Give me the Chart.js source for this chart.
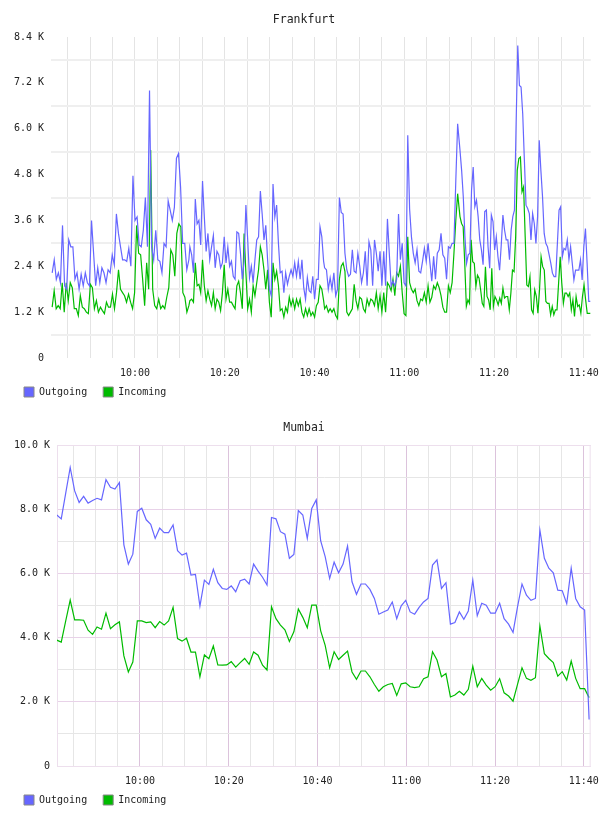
<!DOCTYPE html>
<html lang="en">
<head>
<meta charset="UTF-8">
<title>Frankfurt / Mumbai traffic</title>
<script src="https://cdn.jsdelivr.net/npm/chart.js"></script>
<style>
  body { margin: 0; background: #fff; }
  .box { position: relative; width: 608px; height: 408px; }
</style>
</head>
<body>
<div class="box"><canvas id="fra"></canvas></div>
<div class="box"><canvas id="mum"></canvas></div>
<script>
// time axis in minutes after midnight (9:41 .. 11:41)
const timeRange = [581.3, 701.55];

// Frankfurt, values in K, read in four stretches; each stretch spans [from, to] minutes
const fraSpans = [[581.56, 612.02], [612.24, 642.04], [642.26, 671.9], [672.42, 701.48]];
const fraOut1 = [2.23, 2.57, 2.06, 2.23, 1.97, 3.47, 1.89, 1.8, 3.09, 2.91, 2.91, 2.06, 2.23, 1.8, 2.19, 1.89, 2.23, 1.97, 1.89, 3.6, 2.74, 1.89, 2.36, 1.97, 2.36, 2.23, 1.97, 2.31, 2.23, 2.7, 2.44, 3.77, 3.26, 2.91, 2.57, 2.57, 2.53, 2.87, 2.4, 4.77, 3.6, 3.69, 2.96, 2.91, 3.34, 4.2, 2.91, 7.0, 2.91, 2.57, 3.34, 2.57, 2.53, 2.23, 3.0, 2.91, 4.11, 3.86, 3.6, 3.94, 5.23, 5.35, 4.46, 3.0, 3.0, 2.31, 2.57];
const fraOut2 = [2.91, 2.7, 2.23, 4.16, 3.51, 3.6, 2.96, 4.63, 3.69, 2.79, 3.26, 2.57, 2.91, 3.21, 2.36, 2.79, 2.7, 2.36, 2.49, 3.17, 2.49, 2.91, 2.4, 2.53, 2.14, 2.06, 3.3, 3.26, 2.74, 2.06, 2.53, 4.0, 3.09, 2.1, 2.4, 1.97, 2.57, 3.09, 3.17, 4.37, 3.77, 3.09, 3.47, 2.57, 1.8, 1.63, 4.55, 3.69, 4.0, 3.0, 2.23, 2.27, 1.71, 2.23, 1.93, 2.14, 2.31, 2.14, 2.49, 2.14, 2.53, 2.06, 2.57, 1.84, 1.54, 2.1, 1.76, 1.71, 2.14, 1.54, 2.06, 2.06, 3.43, 3.17, 2.53];
const fraOut3 = [2.36, 2.31, 1.8, 2.1, 1.8, 2.23, 1.63, 1.8, 4.2, 3.81, 3.77, 2.74, 2.31, 2.14, 2.19, 2.83, 2.27, 2.23, 2.74, 2.4, 1.97, 2.23, 2.79, 1.89, 3.04, 2.83, 1.89, 3.09, 2.74, 2.27, 2.79, 1.89, 2.79, 1.89, 3.64, 2.74, 1.89, 2.01, 1.89, 2.06, 3.77, 2.57, 3.0, 1.97, 1.89, 5.83, 3.9, 3.17, 2.74, 2.49, 2.83, 2.27, 2.23, 2.53, 2.87, 2.53, 3.0, 2.49, 2.01, 2.66, 2.06, 2.74, 2.83, 3.26, 2.7, 2.61, 2.06, 2.91, 2.87, 3.0, 3.0, 4.63, 6.13];
const fraOut4 = [5.44, 4.91, 4.22, 3.17, 2.48, 2.7, 2.74, 4.39, 5.0, 3.96, 4.13, 3.7, 3.09, 2.83, 2.44, 3.83, 3.87, 2.91, 2.35, 3.74, 3.57, 2.83, 3.17, 2.65, 2.3, 2.96, 3.74, 3.35, 3.09, 3.09, 2.57, 3.35, 3.7, 3.87, 6.13, 8.18, 7.13, 7.09, 6.39, 5.18, 4.0, 3.91, 3.78, 3.09, 3.78, 3.52, 3.0, 3.7, 5.7, 4.91, 4.22, 3.26, 3.0, 2.91, 2.7, 2.48, 2.22, 2.13, 2.13, 3.0, 3.87, 3.96, 2.65, 2.87, 2.83, 3.09, 2.57, 2.91, 2.48, 2.04, 2.3, 2.3, 2.3, 2.57, 2.04, 2.91, 3.39, 2.48, 1.48, 1.48];
const fraIn1 = [1.33, 1.76, 1.29, 1.37, 1.29, 1.97, 1.2, 1.97, 1.5, 1.97, 1.84, 1.29, 1.29, 1.11, 1.63, 1.33, 1.29, 1.2, 1.16, 1.93, 1.84, 1.29, 1.5, 1.2, 1.33, 1.24, 1.16, 1.46, 1.33, 1.33, 1.67, 1.29, 1.71, 2.31, 1.8, 1.71, 1.63, 1.46, 1.67, 1.46, 1.29, 1.71, 3.47, 2.74, 2.7, 2.06, 1.37, 2.49, 1.8, 5.44, 1.8, 1.37, 1.29, 1.54, 1.29, 1.37, 1.29, 1.59, 1.84, 2.83, 2.7, 2.14, 3.26, 3.51, 3.43, 1.71, 1.59, 1.2, 1.37];
const fraIn2 = [1.5, 1.54, 1.46, 2.49, 1.89, 1.93, 1.71, 2.57, 1.89, 1.5, 1.76, 1.54, 1.37, 1.71, 1.29, 1.54, 1.46, 1.24, 1.71, 2.44, 1.54, 1.8, 1.46, 1.46, 1.37, 1.29, 1.89, 2.01, 1.71, 1.29, 3.26, 2.23, 1.29, 1.54, 1.2, 1.89, 1.63, 1.97, 2.31, 2.91, 2.7, 2.31, 1.8, 2.31, 1.46, 1.07, 2.49, 2.06, 2.27, 1.89, 1.24, 1.29, 1.07, 1.33, 1.2, 1.59, 1.37, 1.54, 1.29, 1.54, 1.37, 1.54, 1.2, 1.07, 1.29, 1.11, 1.29, 1.11, 1.2, 1.07, 1.37, 1.46, 1.89, 1.8, 1.5];
const fraIn3 = [1.29, 1.37, 1.2, 1.29, 1.2, 1.29, 1.11, 1.03, 2.06, 2.4, 2.49, 2.27, 1.2, 1.11, 1.2, 1.29, 1.93, 1.5, 1.29, 1.59, 1.54, 1.29, 1.2, 1.54, 1.37, 1.54, 1.5, 1.37, 1.71, 1.29, 1.63, 1.2, 1.71, 1.2, 1.97, 1.89, 1.76, 2.06, 1.63, 2.23, 2.14, 2.4, 1.71, 1.16, 1.11, 3.17, 1.97, 1.8, 1.71, 1.8, 1.5, 1.37, 1.54, 1.5, 1.71, 1.46, 1.89, 1.46, 1.59, 1.89, 1.8, 1.97, 1.84, 1.63, 1.33, 1.2, 1.2, 1.89, 1.71, 1.97, 2.74, 3.6, 4.3];
const fraIn4 = [3.7, 3.52, 3.44, 2.48, 1.35, 1.52, 1.43, 3.09, 2.52, 2.48, 1.87, 2.17, 2.09, 1.78, 1.43, 1.35, 2.39, 1.61, 1.52, 1.26, 2.35, 1.35, 1.61, 1.52, 1.39, 1.57, 1.43, 1.83, 1.57, 1.61, 1.61, 1.26, 1.7, 2.3, 2.26, 3.17, 4.91, 5.22, 5.26, 4.35, 4.48, 3.17, 1.91, 1.87, 2.13, 1.26, 1.17, 1.78, 1.61, 1.17, 1.78, 2.65, 2.39, 2.3, 1.48, 1.43, 1.43, 1.13, 1.35, 1.13, 1.26, 1.26, 1.96, 2.65, 1.96, 1.43, 1.7, 1.7, 1.61, 1.7, 1.26, 1.52, 1.09, 1.61, 1.35, 1.39, 1.17, 1.61, 1.91, 1.52, 1.17, 1.17, 1.17];

// Mumbai, one reading a minute, values in K
const mumSpan = [581.25, 701.2];
const mumOut = [7.82, 7.7, 8.5, 9.3, 8.57, 8.21, 8.4, 8.19, 8.27, 8.34, 8.29, 8.92, 8.68, 8.63, 8.83, 6.89, 6.29, 6.6, 7.93, 8.03, 7.67, 7.53, 7.09, 7.41, 7.27, 7.27, 7.51, 6.71, 6.57, 6.63, 5.95, 5.97, 4.98, 5.79, 5.66, 6.13, 5.71, 5.53, 5.5, 5.61, 5.43, 5.77, 5.82, 5.67, 6.29, 6.07, 5.88, 5.64, 7.74, 7.7, 7.3, 7.22, 6.47, 6.59, 7.96, 7.82, 7.09, 8.02, 8.29, 7.01, 6.52, 5.84, 6.35, 6.02, 6.29, 6.85, 5.74, 5.35, 5.67, 5.67, 5.5, 5.22, 4.73, 4.8, 4.86, 5.11, 4.59, 4.99, 5.16, 4.8, 4.73, 4.94, 5.11, 5.22, 6.26, 6.42, 5.53, 5.71, 4.42, 4.47, 4.8, 4.57, 4.83, 5.79, 4.68, 5.07, 5.01, 4.76, 4.76, 5.07, 4.59, 4.42, 4.16, 4.96, 5.67, 5.32, 5.16, 5.22, 7.35, 6.47, 6.16, 6.02, 5.48, 5.46, 5.06, 6.16, 5.22, 4.96, 4.86, 1.45];
const mumIn = [3.92, 3.86, 4.52, 5.17, 4.55, 4.55, 4.54, 4.23, 4.1, 4.33, 4.26, 4.76, 4.28, 4.4, 4.49, 3.43, 2.93, 3.24, 4.52, 4.52, 4.47, 4.49, 4.31, 4.5, 4.39, 4.52, 4.94, 3.97, 3.89, 3.98, 3.55, 3.55, 2.78, 3.46, 3.34, 3.74, 3.15, 3.14, 3.15, 3.25, 3.08, 3.22, 3.35, 3.17, 3.55, 3.45, 3.14, 2.99, 4.96, 4.59, 4.39, 4.24, 3.88, 4.18, 4.89, 4.63, 4.31, 5.01, 5.01, 4.21, 3.76, 3.06, 3.56, 3.32, 3.45, 3.58, 2.93, 2.7, 2.96, 2.96, 2.78, 2.54, 2.33, 2.47, 2.54, 2.57, 2.2, 2.56, 2.59, 2.47, 2.44, 2.47, 2.72, 2.78, 3.56, 3.3, 2.78, 2.88, 2.15, 2.21, 2.33, 2.21, 2.39, 3.11, 2.47, 2.73, 2.52, 2.36, 2.47, 2.72, 2.28, 2.18, 2.02, 2.54, 3.06, 2.73, 2.67, 2.75, 4.36, 3.5, 3.35, 3.22, 2.8, 2.94, 2.68, 3.27, 2.73, 2.41, 2.41, 2.13];

const MONO = 'DejaVu Sans Mono';
const BLUE = '#6666ff', GREEN = '#00bb00', TEXT = '#222';

// lay readings evenly over their time span
function spread(vals, span) {
  const step = (span[1] - span[0]) / (vals.length - 1);
  return vals.map((v, i) => ({ x: span[0] + i * step, y: v * 1000 }));
}
function hhmm(m) { return Math.floor(m / 60) + ':' + String(m % 60).padStart(2, '0'); }
function kilo(v) { return v === 0 ? '0' : (v / 1000).toFixed(1) + ' K'; }

// thin frame round the plot (Mumbai only)
const frame = {
  id: 'frame',
  beforeDatasetsDraw(chart, args, opts) {
    if (!opts.color) return;
    const { left, top, right, bottom } = chart.chartArea;
    const ctx = chart.ctx;
    ctx.save();
    ctx.strokeStyle = opts.color;
    ctx.lineWidth = 1;
    ctx.strokeRect(left + 0.5, top + 0.5, right - left - 1, bottom - top);
    ctx.restore();
  }
};

function trafficChart(id, title, outPts, inPts, y) {
  return new Chart(document.getElementById(id), {
    type: 'line',
    data: {
      datasets: [
        { label: 'Outgoing', data: outPts, borderColor: BLUE, backgroundColor: BLUE, borderWidth: 1.2, pointRadius: 0 },
        { label: 'Incoming', data: inPts, borderColor: GREEN, backgroundColor: GREEN, borderWidth: 1.2, pointRadius: 0 }
      ]
    },
    options: {
      responsive: true, maintainAspectRatio: false, animation: false, devicePixelRatio: 1,
      layout: { padding: { left: 14, right: 14, top: 0, bottom: 1 } },
      plugins: {
        title: { display: true, text: title, color: TEXT, font: { family: MONO, size: 11.5, weight: 'normal' }, padding: { top: 13, bottom: 10.2 } },
        legend: {
          position: 'bottom', align: 'start',
          labels: {
            boxWidth: 10, boxHeight: 10, padding: 10, color: TEXT, font: { family: MONO, size: 10 },
            generateLabels: chart => chart.data.datasets.map((ds, i) => ({
              text: ds.label + ' ', fillStyle: ds.borderColor, strokeStyle: '#888', lineWidth: 1,
              hidden: false, datasetIndex: i, fontColor: TEXT
            }))
          }
        },
        tooltip: { enabled: false },
        frame: { color: y.frame }
      },
      scales: {
        x: {
          type: 'linear', min: timeRange[0], max: timeRange[1],
          afterFit: s => { s.height = 19; },
          border: { display: false },
          grid: { drawTicks: false, color: c => (c.tick && c.tick.value % 20 === 0) ? y.xMajor : y.xMinor },
          ticks: {
            stepSize: 5, autoSkip: false, includeBounds: false, maxRotation: 0, padding: 9,
            color: TEXT, font: { family: MONO, size: 10 },
            callback: v => v % 20 ? '' : hhmm(v)
          }
        },
        y: {
          min: 0, max: y.max,
          afterFit: s => { s.width = y.width; },
          border: y.border ? { color: y.border } : { display: false },
          grid: { drawTicks: false, lineWidth: y.lineWidth, color: c => (c.tick && c.tick.value % y.label === 0) ? y.major : y.minor },
          ticks: {
            stepSize: y.step, autoSkip: false, padding: 7,
            color: TEXT, font: { family: MONO, size: 10 },
            callback: v => v % y.label ? '' : kilo(v)
          }
        }
      }
    },
    plugins: [frame]
  });
}

const fraOut = [].concat(spread(fraOut1, fraSpans[0]), spread(fraOut2, fraSpans[1]), spread(fraOut3, fraSpans[2]), spread(fraOut4, fraSpans[3]));
const fraIn = [].concat(spread(fraIn1, fraSpans[0]), spread(fraIn2, fraSpans[1]), spread(fraIn3, fraSpans[2]), spread(fraIn4, fraSpans[3]));

trafficChart('fra', 'Frankfurt', fraOut, fraIn, {
  max: 8400, step: 600, label: 1200, width: 37, lineWidth: 2,
  major: 'rgba(0,0,0,0)', minor: '#efefef', xMajor: '#e4e4e4', xMinor: '#e4e4e4'
});
trafficChart('mum', 'Mumbai', spread(mumOut, mumSpan), spread(mumIn, mumSpan), {
  max: 10000, step: 1000, label: 2000, width: 43, lineWidth: 1,
  major: '#e8d2e8', minor: '#e6e6e6', xMajor: '#dcc3dc', xMinor: '#e6e6e6',
  border: '#dcc3dc', frame: '#eddfed'
});
</script>
</body>
</html>
